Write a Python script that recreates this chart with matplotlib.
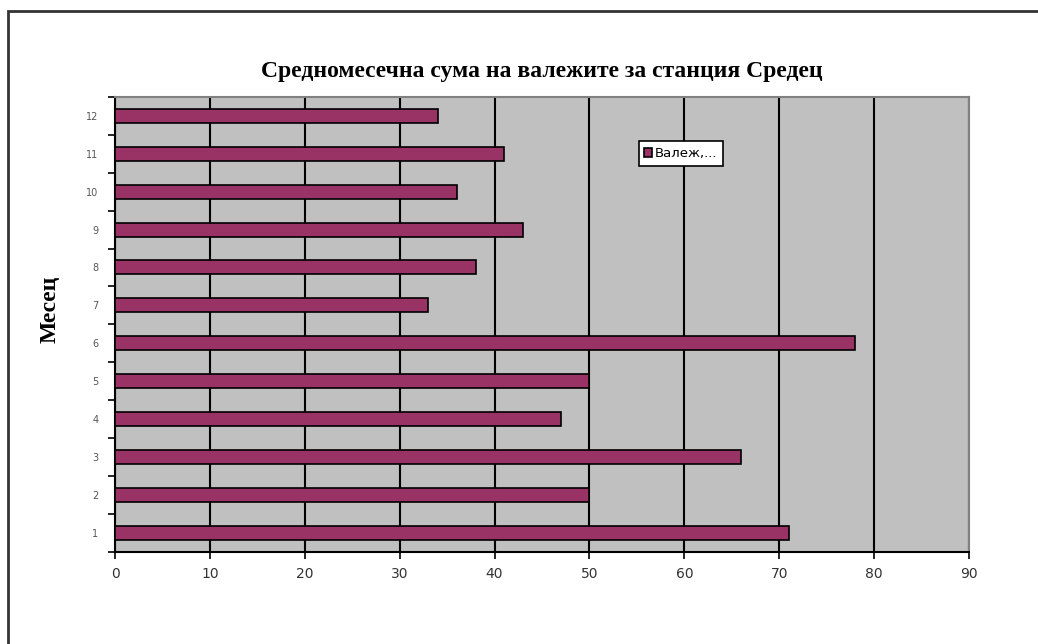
import numpy as np
import matplotlib
matplotlib.use('Agg')
import matplotlib.pyplot as plt
from matplotlib.patches import Rectangle

months = [1, 2, 3, 4, 5, 6, 7, 8, 9, 10, 11, 12]
rain = [71, 50, 66, 47, 50, 78, 33, 38, 43, 36, 41, 34]
title = 'Средномесечна сума на валежите за станция Средец'
ylabel = 'Месец'
series_name = 'Валеж,...'

fig = plt.figure(figsize=(10.38, 6.44), dpi=100)
# outer chart border (only top/left visible in the reference)
fig.patches.append(Rectangle((8/1038, -0.1), 1.2, 1.1 - 11/644, transform=fig.transFigure,
                             fill=False, edgecolor='#333333', linewidth=2))

ax = fig.add_axes([115/1038, 1 - 551.5/644, (969-115)/1038, (551.5-97)/644])
ax.set_facecolor('#C0C0C0')
ax.barh(months, rain, height=0.37, color='#993366', edgecolor='black', linewidth=1.2,
        label=series_name, zorder=3)

ax.set_xlim(0, 90)
ax.set_ylim(0.5, 12.5)
ax.set_xticks(np.arange(0, 91, 10))
ax.xaxis.grid(True, color='black', linewidth=1.5, zorder=1)
ax.set_axisbelow(True)

# category labels centred, tick marks between categories
ax.set_yticks(np.arange(0.5, 13, 1))
ax.set_yticklabels([])
ax.set_yticks(months, minor=True)
ax.set_yticklabels([str(m) for m in months], minor=True, fontsize=7, color='#555555',
                   family='DejaVu Sans')
ax.tick_params(axis='y', which='minor', length=0, pad=12)
ax.tick_params(axis='y', which='major', length=5, width=1.2, direction='out')
ax.tick_params(axis='x', length=5, width=1.2, direction='out', labelsize=10, pad=6)
for lab in ax.get_xticklabels():
    lab.set_family('DejaVu Sans')
    lab.set_color('#333333')

for s in ['left', 'bottom']:
    ax.spines[s].set_linewidth(1.5)
    ax.spines[s].set_color('black')
for s in ['top', 'right']:
    ax.spines[s].set_linewidth(1.5)
    ax.spines[s].set_color('#808080')

fig.text(542/1038, 1 - 72/644, title, ha='center', va='center', fontsize=17,
         fontweight='bold', family='Liberation Serif')
fig.text(50/1038, 1 - 309/644, ylabel, ha='center', va='center', rotation=90, fontsize=17,
         fontweight='bold', family='Liberation Serif')

leg = ax.legend(loc='center', bbox_to_anchor=(681/1038, 1 - 153.5/644), bbox_transform=fig.transFigure,
                fancybox=False, framealpha=1, edgecolor='black',
                handlelength=0.6, handleheight=0.6, handletextpad=0.2, borderpad=0.45,
                prop={'family': 'DejaVu Sans', 'size': 9.5})
leg.get_frame().set_linewidth(1.2)

plt.savefig('out.png', dpi=100)
